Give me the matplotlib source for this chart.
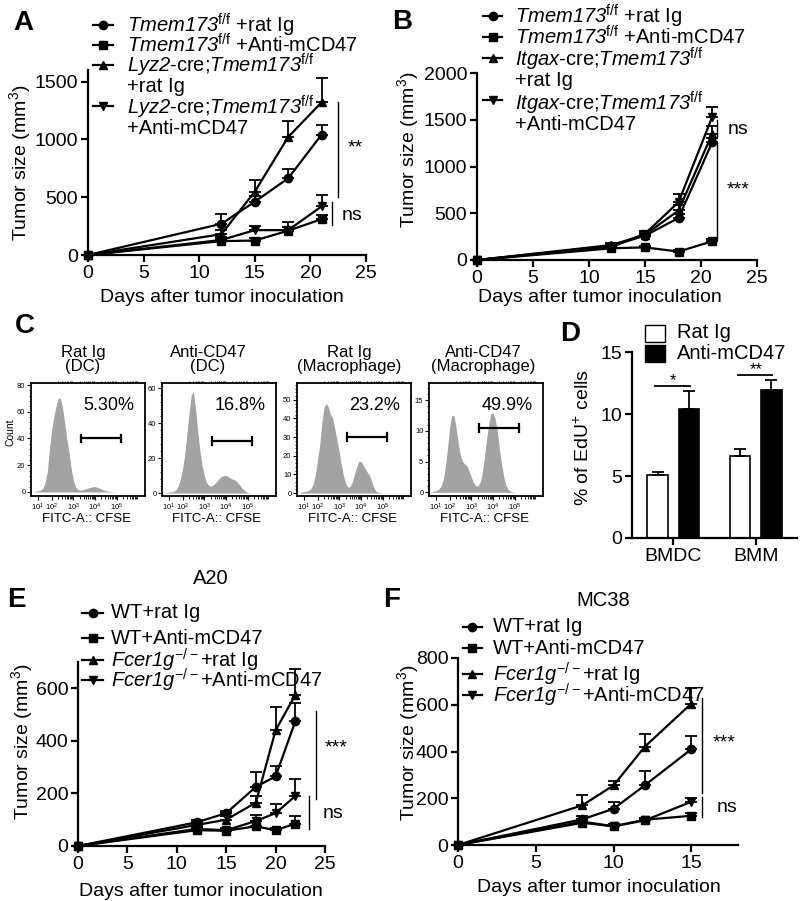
import numpy as np
import matplotlib
matplotlib.use("Agg")
import matplotlib.pyplot as plt
from matplotlib.lines import Line2D

plt.rcParams['font.family'] = ['Liberation Sans', 'DejaVu Sans']
plt.rcParams['mathtext.fontset'] = 'custom'
plt.rcParams['mathtext.rm'] = 'Liberation Sans:italic'
plt.rcParams['mathtext.it'] = 'Liberation Sans:italic'
plt.rcParams['mathtext.sf'] = 'Liberation Sans'
plt.rcParams['mathtext.bf'] = 'Liberation Sans:bold'

# ---------------- data ----------------
# Panel A
days_A = [0, 12, 15, 18, 21]
A_ff_rat = [0, 270, 461, 663, 1040]
A_ff_rat_err = [0, 85, 45, 85, 85]
A_ff_anti = [0, 120, 125, 210, 310]
A_ff_anti_err = [0, 20, 20, 30, 40]
A_lyz_rat = [0, 180, 548, 1020, 1320]
A_lyz_rat_err = [0, 40, 100, 140, 210]
A_lyz_anti = [0, 130, 215, 215, 420]
A_lyz_anti_err = [0, 30, 40, 70, 95]

# Panel B
days_B = [0, 12, 15, 18, 21]
B_ff_rat = [0, 150, 260, 450, 1260]
B_ff_rat_err = [0, 20, 30, 40, 40]
B_ff_anti = [0, 125, 135, 90, 200]
B_ff_anti_err = [0, 15, 20, 15, 25]
B_itg_rat = [0, 160, 270, 530, 1350]
B_itg_rat_err = [0, 20, 40, 60, 80]
B_itg_anti = [0, 140, 280, 620, 1530]
B_itg_anti_err = [0, 20, 30, 85, 110]

# Panel C (flow histograms: counts per log10 fluorescence bin)
flow_bins = [round(1.2 + 0.1 * i, 1) for i in range(43)]
C_dc_rat = [0.5, 0.7, 1, 1.5, 3, 7, 15, 32, 46, 56, 64, 70, 70, 64, 52, 40, 30, 18, 9, 4,
            2, 1.5, 1.5, 2, 2.5, 3, 3.5, 4, 4, 3.5, 3, 2.2, 1.5, 1, 0.6, 0.4, 0.2, 0.1, 0, 0,
            0, 0, 0]
C_dc_anti = [0.3, 0.4, 0.5, 0.7, 1, 2, 4, 8, 14, 22, 34, 46, 56, 58, 48, 35, 24, 16, 10, 6,
             4.5, 4, 4.5, 5.5, 7, 8.5, 9.5, 10, 10, 9.5, 8.5, 8, 7.5, 6.5, 5, 3.5, 2, 1, 0.4,
             0.1, 0, 0, 0]
C_mac_rat = [0.5, 0.6, 0.8, 1, 1.5, 2.5, 5, 10, 18, 26, 38, 46, 48, 46, 42, 40, 34, 28, 22, 15,
             9, 5, 3, 3.5, 6, 10, 14, 17, 17, 15, 13, 11, 9.5, 6, 3, 1, 0.4, 0.2, 0.1, 0,
             0, 0, 0]
C_mac_anti = [0.2, 0.2, 0.3, 0.5, 1, 2, 4, 7, 10.5, 12.5, 12.5, 10.5, 8, 6, 5, 4.6, 4.3, 3.5,
              2.5, 1.6, 1.1, 1, 1.6, 3, 5.5, 8.5, 11, 12.8, 13, 12, 10, 7, 4.5, 2.5, 1.2, 0.5,
              0.2, 0.1, 0, 0, 0, 0, 0]
C_titles = [("Rat Ig", "(DC)"), ("Anti-CD47", "(DC)"),
            ("Rat Ig", "(Macrophage)"), ("Anti-CD47", "(Macrophage)")]
C_percent = ["5.30%", "16.8%", "23.2%", "49.9%"]

# Panel D
D_groups = ["BMDC", "BMM"]
D_rat = [5.1, 6.6]
D_rat_err = [0.2, 0.6]
D_anti = [10.4, 11.9]
D_anti_err = [1.45, 0.85]
D_sig = ["*", "**"]

# Panel E (A20)
days_E = [0, 12, 15, 18, 20, 22]
E_wt_rat = [0, 90, 125, 225, 265, 475]
E_wt_rat_err = [0, 10, 10, 55, 40, 70]
E_wt_anti = [0, 60, 58, 75, 60, 85]
E_wt_anti_err = [0, 8, 8, 20, 8, 30]
E_ko_rat = [0, 80, 100, 165, 440, 575]
E_ko_rat_err = [0, 10, 15, 25, 90, 100]
E_ko_anti = [0, 65, 60, 95, 125, 190]
E_ko_anti_err = [0, 8, 8, 22, 33, 65]

# Panel F (MC38)
days_F = [0, 8, 10, 12, 15]
F_wt_rat = [0, 110, 155, 255, 410]
F_wt_rat_err = [0, 15, 28, 60, 57]
F_wt_anti = [0, 95, 80, 108, 125]
F_wt_anti_err = [0, 8, 8, 8, 12]
F_ko_rat = [0, 170, 255, 420, 605]
F_ko_rat_err = [0, 45, 20, 55, 65]
F_ko_anti = [0, 100, 80, 105, 185]
F_ko_anti_err = [0, 10, 8, 8, 15]

markers = ['o', 's', '^', 'v']

# ---------------- figure ----------------
W, H = 800, 901
fig = plt.figure(figsize=(W / 100, H / 100), dpi=100)


def add_ax(l, t, r, b):
    return fig.add_axes([l / W, 1 - b / H, (r - l) / W, (b - t) / H])


def ftext(x, y, s, **kw):
    kw.setdefault('ha', 'center')
    kw.setdefault('va', 'center')
    fig.text(x / W, 1 - y / H, s, **kw)


def fline(x0, y0, x1, y1, lw=1.0):
    fig.add_artist(Line2D([x0 / W, x1 / W], [1 - y0 / H, 1 - y1 / H],
                          transform=fig.transFigure, color='k', lw=lw))


def fmarker(x0, x1, y, m, ms=6):
    fline(x0, y, x1, y, lw=1.6)
    fig.add_artist(Line2D([(x0 + x1) / 2 / W], [1 - y / H], transform=fig.transFigure,
                          marker=m, color='k', ms=ms, lw=0))


def prism(ax, fs=14):
    for s in ['top', 'right']:
        ax.spines[s].set_visible(False)
    for s in ['left', 'bottom']:
        ax.spines[s].set_linewidth(1.6)
    ax.tick_params(direction='out', length=5, width=1.6, labelsize=fs, pad=2)


def growth(ax, days, series, errs, xlim, ylim, xticks, yticks):
    for vals, err, m in zip(series, errs, markers):
        ax.errorbar(days, vals, yerr=[np.zeros(len(err)), err], color='k', lw=1.6,
                    marker=m, ms=6, capsize=4, elinewidth=1.3, capthick=1.3, clip_on=False)
    ax.set_xlim(*xlim)
    ax.set_ylim(*ylim)
    ax.set_xticks(xticks)
    ax.set_yticks(yticks)
    prism(ax)


YLAB = "Tumor size (mm$^{\\mathsf{3}}$)"
XLAB = "Days after tumor inoculation"
FF = r"^{\mathsf{f/f}}"
KO = r"$Fcer1g^{\mathsf{-/-}}$"
lf = 14.5

# ---- Panel A ----
axA = add_ax(88, 70, 366, 255)
growth(axA, days_A, [A_ff_rat, A_ff_anti, A_lyz_rat, A_lyz_anti],
       [A_ff_rat_err, A_ff_anti_err, A_lyz_rat_err, A_lyz_anti_err],
       (0, 25), (0, 1600), [0, 5, 10, 15, 20, 25], [0, 500, 1000, 1500])
ftext(23, 23, "A", fontsize=20, fontweight='bold')
ftext(20, 163, YLAB, fontsize=14, rotation=90)
ftext(222, 297, XLAB, fontsize=14)
fmarker(93, 113, 25, 'o'); ftext(127, 25, "$Tmem173" + FF + "$ +rat Ig", fontsize=lf, ha='left')
fmarker(93, 113, 45, 's'); ftext(127, 45, "$Tmem173" + FF + "$ +Anti-mCD47", fontsize=lf, ha='left')
fmarker(93, 113, 65, '^'); ftext(127, 65, "$Lyz2$-cre;$Tmem173" + FF + "$", fontsize=lf, ha='left')
ftext(127, 87, "+rat Ig", fontsize=lf, ha='left')
fmarker(93, 113, 106, 'v'); ftext(127, 107, "$Lyz2$-cre;$Tmem173" + FF + "$", fontsize=lf, ha='left')
ftext(127, 128, "+Anti-mCD47", fontsize=lf, ha='left')
fline(338, 102, 338, 197); ftext(355, 148, "**", fontsize=14)
fline(332, 202, 332, 225); ftext(352, 216, "ns", fontsize=14)

# ---- Panel B ----
axB = add_ax(477, 73, 757, 260)
growth(axB, days_B, [B_ff_rat, B_ff_anti, B_itg_rat, B_itg_anti],
       [B_ff_rat_err, B_ff_anti_err, B_itg_rat_err, B_itg_anti_err],
       (0, 25), (0, 2000), [0, 5, 10, 15, 20, 25], [0, 500, 1000, 1500, 2000])
ftext(402, 22, "B", fontsize=20, fontweight='bold')
ftext(408, 150, YLAB, fontsize=14, rotation=90)
ftext(600, 297, XLAB, fontsize=14)
fmarker(483, 502, 16, 'o'); ftext(515, 16, "$Tmem173" + FF + "$ +rat Ig", fontsize=lf, ha='left')
fmarker(483, 502, 37, 's'); ftext(515, 37, "$Tmem173" + FF + "$ +Anti-mCD47", fontsize=lf, ha='left')
fmarker(483, 502, 58, '^'); ftext(515, 59, "$Itgax$-cre;$Tmem173" + FF + "$", fontsize=lf, ha='left')
ftext(515, 81, "+rat Ig", fontsize=lf, ha='left')
fmarker(483, 502, 100, 'v'); ftext(515, 103, "$Itgax$-cre;$Tmem173" + FF + "$", fontsize=lf, ha='left')
ftext(515, 125, "+Anti-mCD47", fontsize=lf, ha='left')
fline(717, 120, 717, 137); ftext(738, 129, "ns", fontsize=14)
fline(717, 142, 717, 240); ftext(738, 190, "***", fontsize=14)

# ---- Panel C ----
ftext(25, 326, "C", fontsize=20, fontweight='bold')
C_lefts = [31, 162, 297, 429]
C_w = 114
C_title_off = [52, 46, 52, 54]
C_data = [C_dc_rat, C_dc_anti, C_mac_rat, C_mac_anti]
C_ylims = [(-3, 81.5), (-1.7, 62.9), (-1.6, 59), (-0.6, 17.8)]
C_yticks = [[0, 20, 40, 60, 80], [0, 20, 40, 60], [0, 10, 20, 30, 40, 50], [0, 5, 10, 15]]
C_yminor = [4, 4, 2, 1]
C_gate_y = [40, 30, 30, 10.5]
minors = [d + np.log10(k) for d in range(2, 6) for k in range(2, 10)]
for i in range(4):
    l = C_lefts[i]
    ax = add_ax(l, 383, l + C_w, 496)
    ax.fill_between(flow_bins, C_data[i], 0, color='#a3a3a3', lw=0)
    ax.set_xlim(1.05, 6.31)
    ax.set_ylim(*C_ylims[i])
    ax.set_yticks(C_yticks[i])
    ax.set_yticks(np.arange(0, C_ylims[i][1], C_yminor[i]), minor=True)
    ax.set_xticks([1.35, 2, 3, 4, 5])
    ax.set_xticklabels([r"$\mathsf{10}^{\mathsf{%d}}$" % k for k in range(1, 6)])
    ax.set_xticks(minors, minor=True)
    ax.tick_params(axis='both', which='major', direction='out', length=3, width=0.8,
                   labelsize=5.5, pad=1)
    ax.tick_params(axis='both', which='minor', direction='out', length=1.8, width=0.6)
    ax.tick_params(axis='x', which='minor', top=True)
    for s in ax.spines.values():
        s.set_linewidth(1.3)
    # gate
    g0, g1, gy = 3.38, 5.19, C_gate_y[i]
    ax.plot([g0, g1], [gy, gy], color='k', lw=1.6)
    hh = (C_ylims[i][1] - C_ylims[i][0]) * 0.035
    ax.plot([g0, g0], [gy - hh, gy + hh], color='k', lw=1.6)
    ax.plot([g1, g1], [gy - hh, gy + hh], color='k', lw=1.6)
    ftext(l + C_title_off[i], 352, C_titles[i][0], fontsize=12)
    ftext(l + C_title_off[i], 366, C_titles[i][1], fontsize=12)
    ftext(l + 78, 405, C_percent[i], fontsize=13)
    ftext(l + 55, 519, "FITC-A:: CFSE", fontsize=9.5)
ftext(11, 432, "Count", fontsize=7.5, rotation=90)

# ---- Panel D ----
axD = add_ax(632, 352, 797, 538)
xpos = np.arange(len(D_groups))
bw = 0.25
off = 0.19
axD.bar(xpos - off, D_rat, bw, color='white', edgecolor='k', lw=1.2,
        yerr=[np.zeros(2), D_rat_err], capsize=4,
        error_kw=dict(elinewidth=1.3, capthick=1.3))
axD.bar(xpos + off, D_anti, bw, color='black', edgecolor='k', lw=1.2,
        yerr=[np.zeros(2), D_anti_err], capsize=4,
        error_kw=dict(elinewidth=1.3, capthick=1.3))
axD.set_xlim(-0.5, 1.5)
axD.set_ylim(0, 15)
axD.set_yticks([0, 5, 10, 15])
axD.set_xticks(xpos)
axD.set_xticklabels(D_groups)
prism(axD)
ftext(570, 334, "D", fontsize=20, fontweight='bold')
ftext(583, 438, "% of EdU$^{\\mathsf{+}}$ cells", fontsize=14, rotation=90)
for i in range(2):
    tops = D_anti[i] + D_anti_err[i] + 0.38
    axD.plot([i - 0.22, i + 0.2], [tops, tops], color='k', lw=1.3, clip_on=False)
    axD.text(i, tops + 1.05, D_sig[i], ha='center', va='top', fontsize=12, clip_on=False)
# legend
fig.add_artist(plt.Rectangle((645 / W, 1 - 342 / H), 20 / W, 17 / H, transform=fig.transFigure,
                             facecolor='white', edgecolor='k', lw=1.0))
fig.add_artist(plt.Rectangle((645 / W, 1 - 362 / H), 20 / W, 17 / H, transform=fig.transFigure,
                             facecolor='black', edgecolor='k', lw=1.0))
ftext(677, 333, "Rat Ig", fontsize=14.5, ha='left')
ftext(677, 353, "Anti-mCD47", fontsize=14.5, ha='left')

# ---- Panel E ----
axE = add_ax(78, 662, 325, 846)
growth(axE, days_E, [E_wt_rat, E_wt_anti, E_ko_rat, E_ko_anti],
       [E_wt_rat_err, E_wt_anti_err, E_ko_rat_err, E_ko_anti_err],
       (0, 25), (0, 700), [0, 5, 10, 15, 20, 25], [0, 200, 400, 600])
ftext(16, 600, "E", fontsize=20, fontweight='bold')
ftext(211, 578, "A20", fontsize=14.5)
ftext(22, 742, YLAB, fontsize=14, rotation=90)
ftext(201, 892, XLAB, fontsize=14)
fmarker(82, 103, 613, 'o'); ftext(111, 613, "WT+rat Ig", fontsize=lf, ha='left')
fmarker(82, 103, 638, 's'); ftext(111, 638, "WT+Anti-mCD47", fontsize=lf, ha='left')
fmarker(82, 103, 660, '^'); ftext(111, 660, KO + "+rat Ig", fontsize=lf, ha='left')
fmarker(82, 103, 680, 'v'); ftext(111, 680, KO + "+Anti-mCD47", fontsize=lf, ha='left')
fline(316, 711, 316, 799); ftext(336, 748, "***", fontsize=14)
fline(309, 796, 309, 829); ftext(333, 814, "ns", fontsize=14)

# ---- Panel F ----
axF = add_ax(458, 658, 738, 845)
growth(axF, days_F, [F_wt_rat, F_wt_anti, F_ko_rat, F_ko_anti],
       [F_wt_rat_err, F_wt_anti_err, F_ko_rat_err, F_ko_anti_err],
       (0, 18), (0, 800), [0, 5, 10, 15], [0, 200, 400, 600, 800])
ftext(392, 600, "F", fontsize=20, fontweight='bold')
ftext(603, 600, "MC38", fontsize=14.5)
ftext(408, 743, YLAB, fontsize=14, rotation=90)
ftext(599, 887, XLAB, fontsize=14)
fmarker(463, 482, 627, 'o'); ftext(493, 627, "WT+rat Ig", fontsize=lf, ha='left')
fmarker(463, 482, 648, 's'); ftext(493, 648, "WT+Anti-mCD47", fontsize=lf, ha='left')
fmarker(463, 482, 674, '^'); ftext(493, 674, KO + "+rat Ig", fontsize=lf, ha='left')
fmarker(463, 482, 695, 'v'); ftext(493, 695, KO + "+Anti-mCD47", fontsize=lf, ha='left')
fline(702, 698, 702, 793); ftext(724, 743, "***", fontsize=14)
fline(702, 797, 702, 817); ftext(727, 808, "ns", fontsize=14)

fig.savefig("out.png", dpi=100)
